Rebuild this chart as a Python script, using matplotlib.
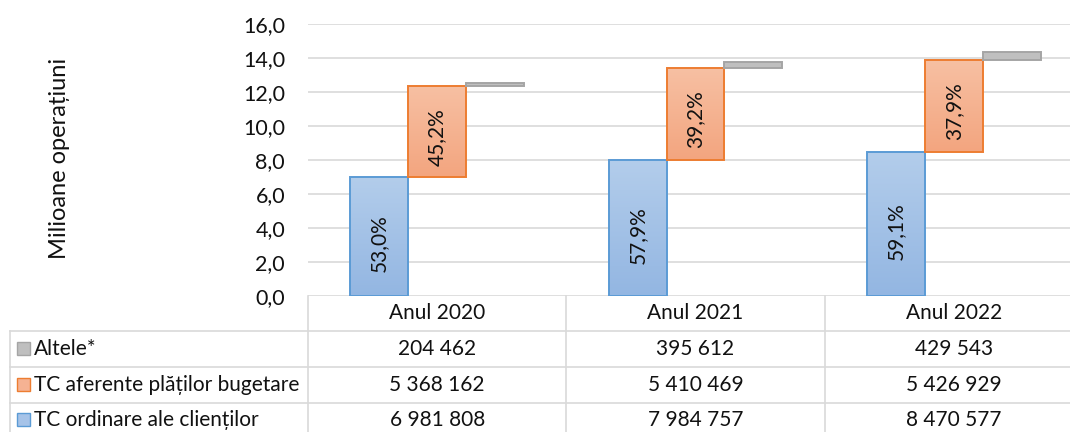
import matplotlib
matplotlib.use('Agg')
import matplotlib.pyplot as plt
import numpy as np
from matplotlib.transforms import blended_transform_factory
from matplotlib.patches import Rectangle
from matplotlib.lines import Line2D
from matplotlib.colors import LinearSegmentedColormap

# ---------------- data ----------------
categories = ['Anul 2020', 'Anul 2021', 'Anul 2022']
series_names = ['Altele*', 'TC aferente plăților bugetare', 'TC ordinare ale clienților']
ordinare = [6981808, 7984757, 8470577]
bugetare = [5368162, 5410469, 5426929]
altele = [204462, 395612, 429543]
pct_ordinare = ['53,0%', '57,9%', '59,1%']
pct_bugetare = ['45,2%', '39,2%', '37,9%']
yticks = [0, 2, 4, 6, 8, 10, 12, 14, 16]
ylabel = 'Milioane operațiuni'

# ---------------- style ----------------
FONT = ['Lato', 'DejaVu Sans']
plt.rcParams['font.family'] = FONT
FS = 15
BLUE_EDGE, BLUE_TOP, BLUE_BOT = '#5b9bd5', '#b3cdeb', '#93b6e2'
OR_EDGE, OR_TOP, OR_BOT = '#ed7d31', '#f7c0a3', '#f3a57f'
GR_EDGE, GR_FILL = '#a5a5a5', '#bfbfbf'
GRID = '#d9d9d9'
TXT = '#111111'

W, H = 1070, 432
fig = plt.figure(figsize=(W / 100, H / 100), dpi=100)


def fx(px):
    return px / W


def fy(py):
    return 1 - py / H


ax = fig.add_axes([fx(308), fy(296), fx(1083) - fx(308), fy(24) - fy(296)])

o = np.array(ordinare) / 1e6
b = np.array(bugetare) / 1e6
a = np.array(altele) / 1e6
x = np.arange(len(categories))
bw = 0.2245


def gradient_fill(bars, top, bot):
    cmap = LinearSegmentedColormap.from_list('g', [bot, top])
    grad = np.linspace(0, 1, 256).reshape(-1, 1)
    for r in bars:
        x0, y0 = r.get_x(), r.get_y()
        w, h = r.get_width(), r.get_height()
        im = ax.imshow(grad, extent=[x0, x0 + w, y0, y0 + h], origin='lower',
                       cmap=cmap, aspect='auto', zorder=1.5, interpolation='bilinear')
        im.set_clip_path(r)


blue = ax.bar(x - bw, o, bw, bottom=0, facecolor='none', edgecolor=BLUE_EDGE, lw=1.4, zorder=2)
orng = ax.bar(x, b, bw, bottom=o, facecolor='none', edgecolor=OR_EDGE, lw=1.4, zorder=2)
gray = ax.bar(x + bw, a, bw, bottom=o + b, facecolor=GR_FILL, edgecolor=GR_EDGE, lw=1.4, zorder=2)
gradient_fill(blue, BLUE_TOP, BLUE_BOT)
gradient_fill(orng, OR_TOP, OR_BOT)

for i in range(len(categories)):
    ax.text(x[i] - bw, o[i] / 2 - 0.4, pct_ordinare[i], rotation=90, ha='center', va='center',
            fontsize=FS, color=TXT, zorder=3)
    ax.text(x[i], o[i] + b[i] / 2 - 0.3, pct_bugetare[i], rotation=90, ha='center', va='center',
            fontsize=FS, color=TXT, zorder=3)

ax.set_xlim(-0.5, len(categories) - 0.5)
ax.set_ylim(yticks[0], yticks[-1])
ax.set_yticks(yticks)
ax.set_yticklabels([f'{v:.1f}'.replace('.', ',') for v in yticks], fontsize=FS + 0.5, color=TXT)
ax.set_xticks([])
ax.tick_params(axis='y', length=0, pad=16.5)
ax.yaxis.grid(True, color=GRID, lw=1.2)
ax.set_axisbelow(True)
for s in ax.spines.values():
    s.set_visible(False)

fig.text(fx(60), fy(158), ylabel, rotation=90, ha='center', va='center', fontsize=17, color=TXT)

# ---------------- data table ----------------
trans = blended_transform_factory(ax.transData, fig.transFigure)
row_lines = [331, 367, 403, 438]
for py in row_lines:
    fig.add_artist(Line2D([fx(10), 1.0], [fy(py)] * 2, transform=fig.transFigure, color=GRID, lw=1.2))
for xb in np.arange(len(categories) + 1) - 0.5:
    fig.add_artist(Line2D([xb, xb], [fy(296), fy(438)], transform=trans, color=GRID, lw=1.2,
                          clip_on=False))
fig.add_artist(Line2D([fx(10), fx(10)], [fy(331), fy(438)], transform=fig.transFigure, color=GRID, lw=1.2))

for i, c in enumerate(categories):
    fig.text(x[i], fy(313), c, transform=trans, ha='center', va='center', fontsize=FS, color=TXT)

rows = [(series_names[0], altele, GR_FILL, GR_EDGE),
        (series_names[1], bugetare, '#f5b293', OR_EDGE),
        (series_names[2], ordinare, '#a6c3e8', BLUE_EDGE)]
row_centers = [349, 385, 420]
for (name, vals, fc, ec), py in zip(rows, row_centers):
    fig.add_artist(Rectangle((fx(17), fy(py + 6)), fx(13), 13 / H, transform=fig.transFigure,
                             facecolor=fc, edgecolor=ec, lw=1.0))
    fig.text(fx(34), fy(py), name, ha='left', va='center', fontsize=FS, color=TXT)
    for i, v in enumerate(vals):
        fig.text(x[i], fy(py), f'{v:,}'.replace(',', ' '), transform=trans, ha='center', va='center',
                 fontsize=FS, color=TXT)

fig.savefig('out.png', dpi=100)
